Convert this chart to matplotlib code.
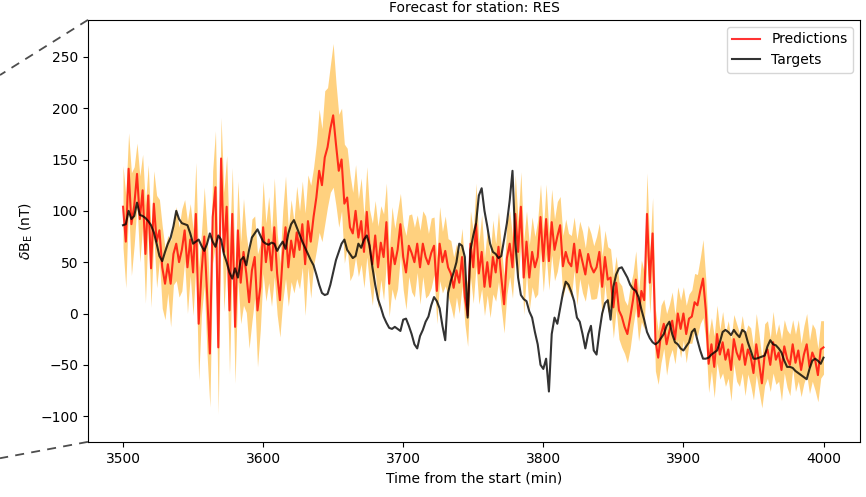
import numpy as np
import matplotlib
matplotlib.use("Agg")
import matplotlib.pyplot as plt
from matplotlib.lines import Line2D

# time axis, 2 min steps
t_start = 3500
t_end = 4000
t_step = 2

predictions = [
    104, 70, 141, 87, 105, 136, 92, 120, 58, 115,
    44, 107, 70, 81, 45, 29, 48, 29, 58, 68,
    50, 62, 81, 45, 72, 40, 97, -10, 39, 75,
    20, -39, 94, 123, -33, 151, 60, 104, 3, 97,
    -13, 81, 30, 60, 39, 11, 42, 55, 3, 26,
    84, 50, 72, 42, 84, 39, 13, 56, 84, 45,
    71, 55, 79, 62, 87, 48, 90, 70, 94, 113,
    139, 125, 152, 162, 180, 193, 165, 139, 150, 107,
    113, 84, 78, 100, 74, 90, 60, 99, 65, 48,
    76, 45, 69, 55, 89, 29, 64, 48, 62, 87,
    55, 40, 66, 59, 50, 68, 45, 68, 55, 48,
    59, 66, 22, 68, 50, 61, 45, 39, 25, 42,
    30, 55, 16, -2, 68, 45, 87, 39, 60, 26,
    50, 26, 55, 40, 65, 35, 9, 54, 68, 45,
    97, 60, 104, 35, 70, 35, 60, 45, 55, 94,
    51, 92, 51, 89, 62, 75, 86, 46, 60, 50,
    46, 68, 40, 62, 50, 38, 58, 46, 40, 45,
    60, 26, 55, 33, 35, 6, 30, 3, -3, -13,
    -20, -4, 13, 33, -3, 22, 13, 97, 30, 78,
    -26, -43, -20, -10, -30, -17, -7, -25, 0, -15,
    0, -20, -5, -3, 11, 8, 22, 34, 3, -49,
    -30, -52, -20, -40, -28, -45, -35, -55, -25, -38,
    -45, -30, -50, -35, -42, -58, -30, -48, -68, -40,
    -35, -50, -28, -45, -38, -55, -32, -44, -50, -30,
    -48, -36, -55, -40, -30, -52, -38, -45, -60, -35,
    -33,
]

# half width of the uncertainty band
spread = [
    40, 45, 35, 50, 38, 30, 42, 35, 48, 30,
    38, 32, 45, 30, 40, 35, 28, 42, 30, 36,
    34, 40, 30, 45, 35, 42, 50, 55, 40, 48,
    60, 52, 45, 55, 65, 40, 58, 50, 62, 45,
    55, 48, 40, 52, 38, 45, 50, 40, 55, 42,
    45, 38, 42, 35, 48, 40, 36, 44, 50, 38,
    40, 35, 45, 38, 42, 50, 45, 55, 48, 52,
    60, 55, 65, 58, 62, 70, 60, 55, 50, 58,
    48, 52, 40, 45, 38, 42, 35, 44, 36, 40,
    34, 40, 36, 42, 38, 32, 40, 35, 38, 30,
    32, 36, 30, 38, 34, 28, 36, 32, 40, 30,
    34, 28, 32, 36, 30, 34, 28, 32, 30, 26,
    30, 28, 26, 30, 32, 35, 40, 30, 36, 28,
    32, 30, 36, 28, 34, 30, 28, 35, 32, 30,
    38, 30, 34, 36, 30, 32, 34, 30, 36, 32,
    30, 34, 28, 32, 30, 34, 28, 30, 32, 28,
    30, 26, 32, 28, 30, 26, 28, 32, 26, 30,
    28, 30, 26, 32, 28, 30, 26, 28, 30, 26,
    28, 30, 26, 28, 24, 30, 28, 40, 30, 35,
    30, 26, 28, 24, 30, 26, 28, 24, 26, 28,
    26, 28, 24, 26, 28, 30, 32, 38, 30, 28,
    26, 30, 28, 24, 30, 26, 28, 30, 24, 28,
    26, 28, 30, 24, 28, 26, 30, 28, 24, 30,
    28, 26, 30, 24, 28, 30, 26, 28, 30, 24,
    28, 30, 26, 28, 30, 26, 28, 30, 26, 28,
    26,
]

targets = [
    86, 87, 100, 92, 95, 108, 96, 95, 93, 90,
    86, 79, 68, 56, 51, 60, 68, 74, 85, 100,
    92, 88, 87, 86, 78, 68, 70, 72, 66, 61,
    68, 78, 70, 65, 76, 72, 58, 50, 40, 34,
    44, 35, 52, 55, 47, 62, 74, 78, 82, 76,
    70, 68, 67, 69, 68, 61, 66, 70, 63, 78,
    87, 91, 84, 77, 70, 64, 58, 52, 47, 38,
    28, 20, 18, 19, 28, 40, 52, 60, 68, 72,
    62, 58, 54, 56, 68, 64, 72, 76, 66, 45,
    28, 14, 6, -3, -9, -14, -15, -13, -15, -17,
    -6, -5, -12, -20, -30, -34, -22, -16, -8, -3,
    8, 16, 12, 5, -12, -26, 20, 32, 40, 50,
    68, 66, 55, -4, 62, 76, 88, 115, 122, 100,
    85, 68, 60, 58, 54, 56, 72, 88, 110, 139,
    70, 35, 18, 14, 12, 2, -4, -18, -30, -50,
    -54, -44, -76, -20, -4, -10, 5, 20, 31, 28,
    21, 12, -4, -8, -20, -34, -20, -12, -36, -40,
    -18, 0, 10, 13, -6, 26, 38, 44, 45, 40,
    35, 28, 24, 22, 16, 4, -6, -18, -24, -28,
    -30, -28, -24, -20, -12, -8, -20, -28, -30, -34,
    -36, -32, -28, -18, -15, -26, -36, -44, -44, -43,
    -40, -38, -36, -28, -18, -16, -18, -21, -16, -20,
    -23, -16, -18, -28, -36, -44, -44, -43, -42, -41,
    -32, -26, -30, -31, -34, -38, -46, -52, -52, -53,
    -56, -58, -60, -62, -64, -54, -46, -44, -46, -49,
    -43,
]

station = "RES"

t = np.arange(t_start, t_end + 1, t_step)
pred = np.array(predictions, dtype=float)
sig = np.array(spread, dtype=float)
targ = np.array(targets, dtype=float)

fig = plt.figure(figsize=(8.66, 4.97), dpi=100)
ax = fig.add_axes([0.1016, 0.111, 0.8914, 0.849])

ax.fill_between(t, pred - sig, pred + sig, color="orange", alpha=0.5, linewidth=0)
ax.plot(t, pred, color="red", alpha=0.8, linewidth=1.5, label="Predictions")
ax.plot(t, targ, color="black", alpha=0.8, linewidth=1.5, label="Targets")

ax.set_xlim(3475, 4026)
ax.set_ylim(-125, 286)
ax.set_xticks([3500, 3600, 3700, 3800, 3900, 4000])
ax.set_yticks([-100, -50, 0, 50, 100, 150, 200, 250])
ax.set_title("Forecast for station: " + station, fontsize=10)
ax.set_xlabel("Time from the start (min)", fontsize=10)
ax.set_ylabel(r"$\delta\mathrm{B}_\mathrm{E}$ (nT)", fontsize=10)
ax.legend(loc="upper right", fontsize=10)

# zoom connector lines running off to the left
pos = ax.get_position()
fig.add_artist(Line2D([pos.x0, 0.0], [pos.y1, 0.849], transform=fig.transFigure,
                      color="0.3", linestyle=(0, (5, 4)), linewidth=1.3))
fig.add_artist(Line2D([pos.x0, 0.0], [pos.y0, 0.078], transform=fig.transFigure,
                      color="0.3", linestyle=(0, (5, 4)), linewidth=1.3))

fig.savefig("out.png", dpi=100)
